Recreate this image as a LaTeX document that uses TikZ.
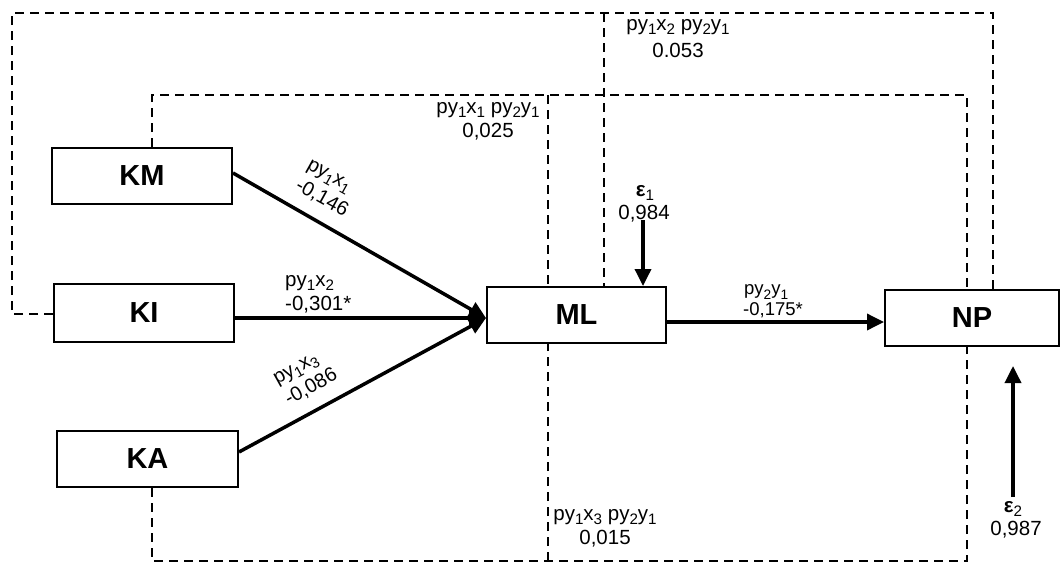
\documentclass[tikz,border=0pt]{standalone}
\usepackage{fontspec}
\setmainfont{Liberation Sans}
\usetikzlibrary{arrows.meta}
\newcommand{\sbs}[1]{\raisebox{-0.22em}{\scalebox{0.74}{#1}}}
\begin{document}
\begin{tikzpicture}[x=1pt,y=-1pt,
  varbox/.style={draw,line width=2pt,fill=white,inner sep=0pt,font=\fontsize{29}{31}\selectfont\bfseries},
  pathline/.style={line width=3.5pt,-{Triangle[length=17pt,width=16pt]}},
  corr/.style={line width=2.4pt,dash pattern=on 9pt off 6pt},
  lbl/.style={font=\fontsize{20.5}{22}\selectfont,inner sep=0pt,align=center},
  rlbl/.style={font=\fontsize{20}{24}\selectfont,inner sep=0pt,align=left},
  slbl/.style={font=\fontsize{18.5}{19}\selectfont,inner sep=0pt,align=center}]
\useasboundingbox (0,0) rectangle (1062,563);
% dashed correlation path corners
\coordinate (oL) at (12,314);
\coordinate (oTL) at (12,13);
\coordinate (oTR) at (993,13);
\coordinate (oT) at (604,13);
\coordinate (iTL) at (152,95);
\coordinate (iTR) at (967,95);
\coordinate (iT) at (548,95);
\coordinate (bL) at (152,561);
\coordinate (bR) at (967,561);
\coordinate (bM) at (548,561);
% boxes
\node[varbox,minimum width=180pt,minimum height=56pt] (KM) at (142,176) {KM};
\node[varbox,minimum width=180pt,minimum height=58pt] (KI) at (144,313) {KI};
\node[varbox,minimum width=181pt,minimum height=56pt] (KA) at (147.5,459) {KA};
\node[varbox,minimum width=179pt,minimum height=56pt] (ML) at (576.5,315) {ML};
\node[varbox,minimum width=174pt,minimum height=56pt] (NP) at (972,318) {NP};
% dashed lines
\draw[corr] (KI.west |- oL) -- (oL) -- (oTL) -- (oTR) -- (oTR |- NP.north);
\draw[corr] (oT) -- (oT |- ML.north);
\draw[corr] (KM.north -| iTL) -- (iTL) -- (iTR) -- (iTR |- NP.north);
\draw[corr] (iT) -- (iT |- ML.north);
\draw[corr] (KA.south -| bL) -- (bL) -- (bR) -- (bR |- NP.south);
\draw[corr] (bM) -- (bM |- ML.south);
% path arrows
\coordinate (tip) at (486,318);
\draw[pathline] ([yshift=3pt]KM.east) -- (tip);
\draw[pathline] (KI.east |- tip) -- (tip);
\draw[pathline] ([yshift=7pt]KA.east) -- (tip);
\draw[pathline] ([yshift=-7pt]ML.east) -- (NP.west |- 0,322);
% path labels
\node[rlbl,rotate=-29] (l1) at (327,189) {py\sbs{1}x\sbs{1}\\-0,146};
\node[lbl,anchor=west] (l2a) at (285,283) {py\sbs{1}x\sbs{2}};
\node[lbl,anchor=west] (l2b) at (285,305) {-0,301*};
\node[rlbl,rotate=29] (l3) at (306,378) {py\sbs{1}x\sbs{3}\\-0,086};
\node[slbl,anchor=west] (l4a) at (744,292) {py\sbs{2}y\sbs{1}};
\node[slbl,anchor=west] (l4b) at (743,310) {-0,175*};
% indirect effects
\node[lbl] (t1) at (678,27) {py\sbs{1}x\sbs{2} py\sbs{2}y\sbs{1}};
\node[lbl] (t1v) at (678,50) {0.053};
\node[lbl] (t2) at (488,110) {py\sbs{1}x\sbs{1} py\sbs{2}y\sbs{1}};
\node[lbl] (t2v) at (488,132) {0,025};
\node[lbl] (t3) at (605,517) {py\sbs{1}x\sbs{3} py\sbs{2}y\sbs{1}};
\node[lbl] (t3v) at (605,539) {0,015};
% residuals
\node[lbl] (e1) at (645,193) {\textbf{ε}\sbs{1}};
\node[lbl] (e1v) at (644,214) {0,984};
\coordinate (e1s) at (643,220);
\draw[pathline] (e1s) -- (e1s |- ML.north);
\node[lbl] (e2) at (1013,509) {\textbf{ε}\sbs{2}};
\node[lbl] (e2v) at (1016,530) {0,987};
\coordinate (e2s) at (1013,497);
\draw[pathline] (e2s) -- (1013,366);
\end{tikzpicture}
\end{document}
